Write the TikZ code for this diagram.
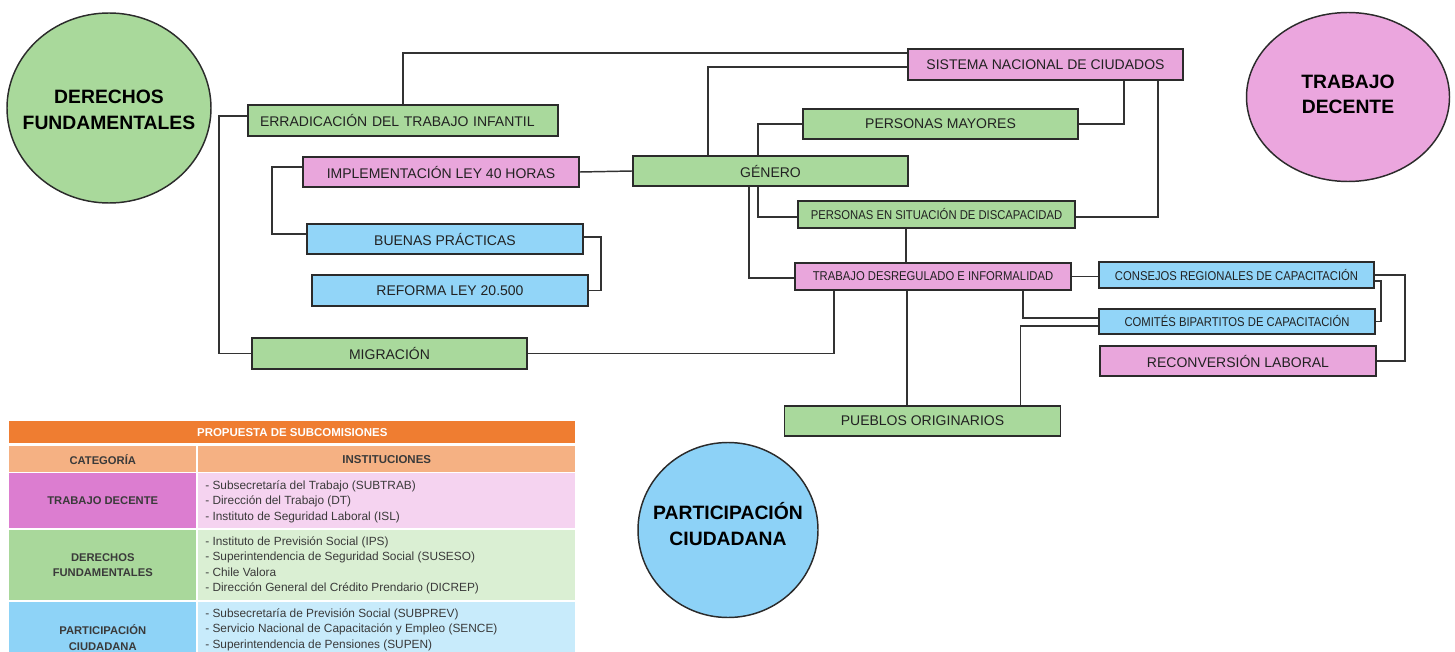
\documentclass[tikz,border=0pt]{standalone}
\usepackage{fontspec}
\setmainfont{Liberation Sans}
\newfontfamily\narrowfont{Liberation Sans}[FakeStretch=0.88]
\usetikzlibrary{calc,shapes.geometric}
\pgfdeclarelayer{bg}
\pgfsetlayers{bg,main}
\definecolor{gfill}{HTML}{A9D99C}
\definecolor{pfill}{HTML}{E9A6DC}
\definecolor{bfill}{HTML}{92D5F8}
\definecolor{cgreen}{HTML}{A9D99B}
\definecolor{cpink}{HTML}{EBA6DE}
\definecolor{cblue}{HTML}{8DD2F7}
\definecolor{boxline}{HTML}{2B2B2B}
\definecolor{lineclr}{HTML}{333333}
\definecolor{txt}{HTML}{222222}
\definecolor{torange}{HTML}{EF7D31}
\definecolor{tpeach}{HTML}{F5B183}
\definecolor{tmag}{HTML}{DC7DD0}
\definecolor{tlpink}{HTML}{F5D3F0}
\definecolor{tgreen}{HTML}{A9D89B}
\definecolor{tlgreen}{HTML}{DAEFD3}
\definecolor{tblue}{HTML}{8ED3F7}
\definecolor{tlblue}{HTML}{C8EBFB}
\definecolor{ttxt}{HTML}{3A3A3A}
\begin{document}
\begin{tikzpicture}[x=0.75pt,y=-0.75pt,
  box/.style={draw=boxline, line width=1.2pt, inner sep=0pt, text=txt,
    font=\fontsize{10.5}{12}\selectfont},
  gbox/.style={box, fill=gfill},
  pbox/.style={box, fill=pfill},
  bbox/.style={box, fill=bfill},
  smalltxt/.style={font=\narrowfont\fontsize{9.6}{11}\selectfont},
  conn/.style={draw=lineclr, line width=1.1pt},
  circ/.style={ellipse, draw=boxline, line width=1.1pt, inner sep=0pt},
  circtxt/.style={inner sep=0pt, align=center, text=black,
    font=\bfseries\fontsize{14.5}{19}\selectfont},
  cell/.style={anchor=north west, inner sep=0pt, minimum width=282.75pt, align=center},
  lcell/.style={cell, minimum width=140.25pt, text=ttxt, font=\bfseries\fontsize{8.4}{11.6}\selectfont},
  rcell/.style={cell},
  tabtxt/.style={anchor=west, inner sep=0pt, align=left, text=ttxt,
    font=\fontsize{8.9}{11.6}\selectfont}
]
\useasboundingbox (0,0) rectangle (1455,652);
\clip (0,0) rectangle (1455,652);

% circles
\node[circ, fill=cgreen, minimum width=153pt, minimum height=142.5pt] (derechos) at (109,108) {};
\node[circtxt] (derechosT) at ($(derechos.center)+(0,2)$) {DERECHOS\\FUNDAMENTALES};
\node[circ, fill=cpink, minimum width=152.25pt, minimum height=126.75pt] (decente) at (1348,97) {};
\node[circtxt] (decenteT) at ($(decente.center)+(0,-2.5)$) {TRABAJO\\DECENTE};
\node[circ, fill=cblue, minimum width=135pt, minimum height=131.25pt] (particip) at (728,530) {};
\node[circtxt] (participT) at ($(particip.center)+(0,-6)$) {PARTICIPACIÓN\\CIUDADANA};

% boxes
\node[gbox, minimum width=232.5pt, minimum height=23.25pt, text width=214.5pt, align=left] (erra) at (403,120.5) {ERRADICACIÓN DEL TRABAJO INFANTIL};
\node[pbox, minimum width=207pt, minimum height=22.5pt] (impl) at (441,172) {IMPLEMENTACIÓN LEY 40 HORAS};
\node[bbox, minimum width=207pt, minimum height=22.5pt] (buenas) at (445,239) {BUENAS PRÁCTICAS};
\node[bbox, minimum width=207pt, minimum height=23.25pt] (reforma) at (450,290.5) {REFORMA LEY 20.500};
\node[gbox, minimum width=206.25pt, minimum height=23.25pt] (migr) at (389.5,353.5) {MIGRACIÓN};
\node[pbox, minimum width=206.25pt, minimum height=23.25pt] (sistema) at (1045.5,64.5) {SISTEMA NACIONAL DE CIUDADOS};
\node[gbox, minimum width=206.25pt, minimum height=22.5pt] (mayores) at (940.5,124) {PERSONAS MAYORES};
\node[gbox, minimum width=206.25pt, minimum height=22.5pt] (genero) at (770.5,171) {GÉNERO};
\node[gbox, smalltxt, minimum width=207.75pt, minimum height=20.25pt] (discap) at (936.5,214.5) {PERSONAS EN SITUACIÓN DE DISCAPACIDAD};
\node[pbox, smalltxt, minimum width=207pt, minimum height=20.25pt] (trabajo) at (933,276.5) {TRABAJO DESREGULADO E INFORMALIDAD};
\node[bbox, smalltxt, minimum width=206.25pt, minimum height=19.5pt] (consejos) at (1236.5,275) {CONSEJOS REGIONALES DE CAPACITACIÓN};
\node[bbox, smalltxt, minimum width=207pt, minimum height=18.75pt] (comites) at (1237,321.5) {COMITÉS BIPARTITOS DE CAPACITACIÓN};
\node[pbox, minimum width=207pt, minimum height=22.5pt] (reconv) at (1238,361) {RECONVERSIÓN LABORAL};
\node[gbox, minimum width=207pt, minimum height=22.5pt] (pueblos) at (922.5,421) {PUEBLOS ORIGINARIOS};

% connectors
\begin{pgfonlayer}{bg}
\coordinate (v1) at ($(discap.south west)+(109,0)$);
\coordinate (v2) at ($(trabajo.south west)+(113,0)$);
\draw[conn] (erra.north) |- ($(sistema.west)+(0,-11.5)$);
\draw[conn] ($(genero.north west)+(76,0)$) |- ($(sistema.west)+(0,2.5)$);
\draw[conn] ($(sistema.south west)+(217,0)$) |- (mayores.east);
\draw[conn] ($(sistema.south west)+(251,0)$) |- ($(discap.east)+(0,2.5)$);
\draw[conn] (mayores.west) -- ++(-44,0) |- ($(discap.west)+(0,2.5)$);
\draw[conn] ($(genero.south west)+(117,0)$) |- ($(trabajo.west)+(0,1.5)$);
\draw[conn] (v1) -- (v1 |- trabajo.north);
\draw[conn] (v2) -- (v2 |- pueblos.north);
\draw[conn] (trabajo.east) -- (trabajo.east -| consejos.west);
\draw[conn] ($(trabajo.south west)+(40,0)$) |- (migr.east);
\draw[conn] ($(trabajo.south west)+(229,0)$) |- ($(comites.west)+(0,-3.5)$);
\draw[conn] ($(pueblos.north west)+(237,0)$) |- ($(comites.west)+(0,4.5)$);
\draw[conn] (consejos.east) -- ++(30,0) |- (reconv.east);
\draw[conn] ($(consejos.east)+(0,6)$) -- ++(6,0) |- (comites.east);
\draw[conn] (impl.east) -- (genero.west);
\draw[conn] ($(erra.west)+(0,-4.5)$) -- ++(-28,0) |- (migr.west);
\draw[conn] ($(impl.west)+(0,-5)$) -- ++(-30,0) |- ($(buenas.west)+(0,-5)$);
\draw[conn] ($(buenas.east)+(0,-2)$) -- ++(17,0) |- (reforma.east);
\end{pgfonlayer}

% table
\node[cell, fill=torange, minimum width=424.5pt, minimum height=16.5pt, text=white,
  font=\bfseries\fontsize{8.6}{10}\selectfont] (thead) at (9,421) {PROPUESTA DE SUBCOMISIONES};
\node[lcell, fill=tpeach, minimum height=19.5pt] (tcat) at (9,446) {CATEGORÍA};
\node[rcell, fill=tpeach, minimum height=19.5pt, text=ttxt,
  font=\bfseries\fontsize{8.6}{10}\selectfont] (tinst) at (198,446) {INSTITUCIONES};
\node[lcell, fill=tmag, minimum height=41.25pt] (r1l) at (9,473) {TRABAJO DECENTE};
\node[rcell, fill=tlpink, minimum height=41.25pt] (r1r) at (198,473) {};
\node[lcell, fill=tgreen, minimum height=52.5pt] (r2l) at (9,530) {DERECHOS\\FUNDAMENTALES};
\node[rcell, fill=tlgreen, minimum height=52.5pt] (r2r) at (198,530) {};
\node[lcell, fill=tblue, minimum height=53.25pt] (r3l) at (9,602) {PARTICIPACIÓN\\CIUDADANA};
\node[rcell, fill=tlblue, minimum height=53.25pt] (r3r) at (198,602) {};
\node[tabtxt] (t1) at (205,501.5) {- Subsecretaría del Trabajo (SUBTRAB)\\- Dirección del Trabajo (DT)\\- Instituto de Seguridad Laboral (ISL)};
\node[tabtxt] (t2) at (205,565.5) {- Instituto de Previsión Social (IPS)\\- Superintendencia de Seguridad Social (SUSESO)\\- Chile Valora\\- Dirección General del Crédito Prendario (DICREP)};
\node[tabtxt] (t3) at (205,629.5) {- Subsecretaría de Previsión Social (SUBPREV)\\- Servicio Nacional de Capacitación y Empleo (SENCE)\\- Superintendencia de Pensiones (SUPEN)};
\end{tikzpicture}
\end{document}
